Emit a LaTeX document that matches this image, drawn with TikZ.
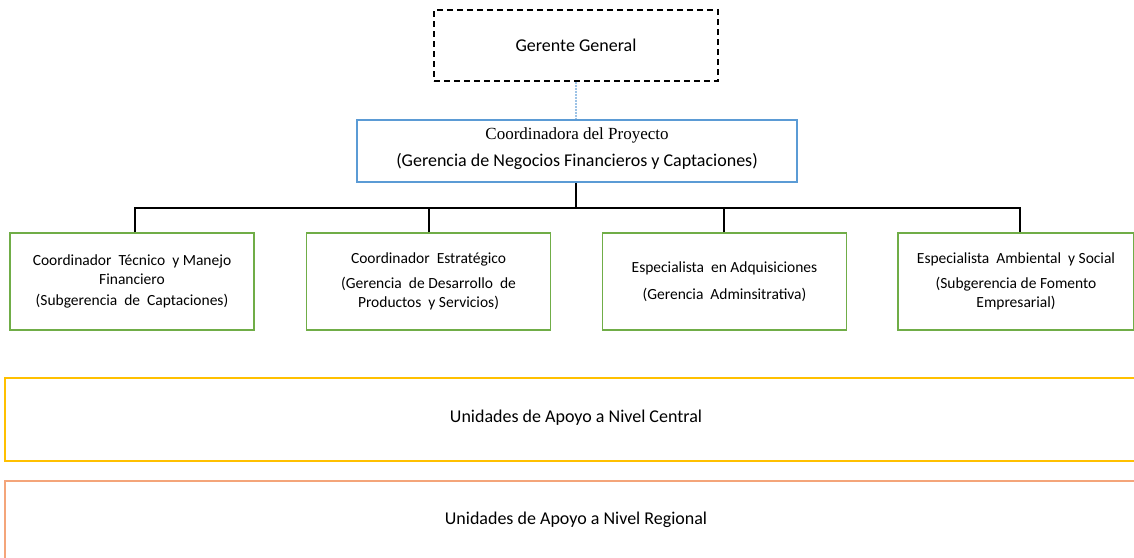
\documentclass[tikz,border=0pt]{standalone}
\usepackage{fontspec}
\setmainfont{Carlito}
\newfontfamily\serifx{Liberation Serif}
\definecolor{blueline}{HTML}{5B9BD5}
\definecolor{greenline}{HTML}{70AD47}
\definecolor{yellowline}{HTML}{FFC000}
\definecolor{orangeline}{HTML}{F4A57A}
\definecolor{dotblue}{HTML}{9DC3E6}
\begin{document}
\begin{tikzpicture}[x=1pt,y=-1pt,
  box/.style={draw, line width=1.5pt, rectangle, inner sep=0pt, align=center, font=\fontsize{15.5}{20}\selectfont},
  gbox/.style={box, draw=greenline, minimum width=244pt, minimum height=97pt},
  conn/.style={draw=black, line width=1.7pt}]
\useasboundingbox (0,0) rectangle (1134,557);
\clip (0,0) rectangle (1134,557);
\node[box, draw=black, dash pattern=on 6pt off 4pt, line width=1.4pt, minimum width=284pt, minimum height=71pt] (gg) at (576,45.5) {\fontsize{18}{21}\selectfont Gerente General};
\node[box, draw=blueline, minimum width=440pt, minimum height=62pt] (cp) at (577,151) {};
\node (cpa) at (577,135) {\serifx\fontsize{17}{20}\selectfont Coordinadora del Proyecto};
\node (cpb) at (577,161) {\fontsize{18}{21}\selectfont (Gerencia de Negocios Financieros y Captaciones)};
\draw[dotblue, line width=1.8pt, dash pattern=on 2pt off 1pt] (gg.south) -- (cp.north -| gg.south);

\node[gbox] (b1) at (132,281.5) {Coordinador\ \ Técnico\ \ y Manejo\\[-1pt] Financiero\\[1pt] (Subgerencia\ \ de\ \ Captaciones)};
\node[gbox] (b2) at (428.5,281.5) {Coordinador\ \ Estratégico\\[5pt] (Gerencia\ \ de Desarrollo\ \ de\\[-1pt] Productos\ \ y Servicios)};
\node[gbox] (b3) at (724.5,281.5) {Especialista\ \ en Adquisiciones\\[7pt] (Gerencia\ \ Adminsitrativa)};
\node[gbox, minimum width=236pt] (b4) at (1016,281.5) {Especialista\ \ Ambiental\ \ y Social\\[5pt] (Subgerencia\ de\ Fomento\\[-1pt] Empresarial)};

\coordinate (bus) at (576,208);
\draw[conn] (cp.south -| bus) -- (bus);
\draw[conn] (b1.north -| 135,0) |- (bus) -| (b4.north -| 1020,0);
\draw[conn] (b2.north -| 429,0) -- (429,208);
\draw[conn] (b3.north -| 724,0) -- (724,208);

\node[box, draw=yellowline, line width=1.8pt, minimum width=1140pt, minimum height=83pt, anchor=north west] (uc) at (4,377) {};
\node at (576,418) {\fontsize{18}{21}\selectfont Unidades de Apoyo a Nivel Central};
\node[box, draw=orangeline, line width=1.8pt, minimum width=1140pt, minimum height=100pt, anchor=north west] (ur) at (4,480) {};
\node at (576,520) {\fontsize{18}{21}\selectfont Unidades de Apoyo a Nivel Regional};
\end{tikzpicture}
\end{document}
